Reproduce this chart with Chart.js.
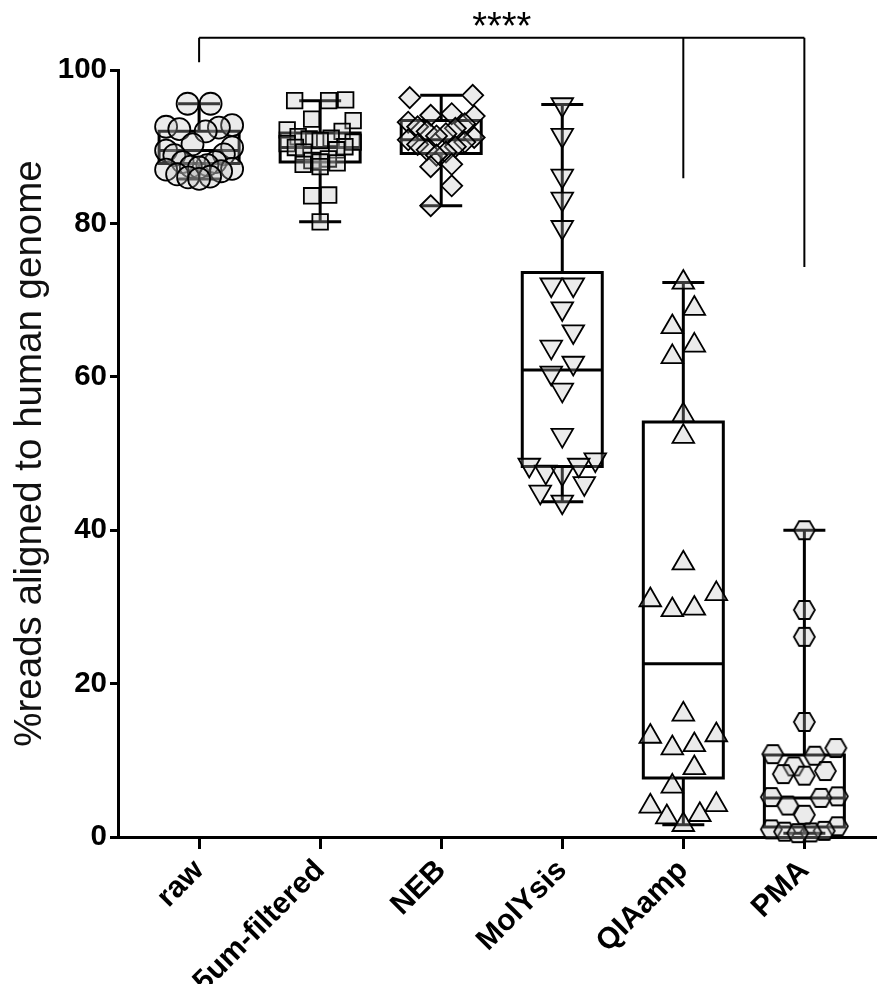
<!DOCTYPE html>
<html>
<head>
<meta charset="utf-8">
<title>Reads aligned to human genome</title>
<script src="https://cdn.jsdelivr.net/npm/chart.js@4.4.1/dist/chart.umd.min.js"></script>
<style>
  html, body { margin: 0; padding: 0; background: #fff; }
  #wrap { width: 877px; height: 984px; }
</style>
</head>
<body>
<div id="wrap"><canvas id="chart" width="877" height="984"></canvas></div>
<script>
// groups and axis ticks
const groups = ['raw', '5um-filtered', 'NEB', 'MolYsis', 'QIAamp', 'PMA'];
const yTicks = [0, 20, 40, 60, 80, 100];

// % reads aligned to human genome, one array per method
const rawReads = [95.6, 95.6, 92.8, 92.6, 92.5, 92.3, 92.0, 90.3, 89.9, 89.5, 89.0, 88.9,
  88.0, 88.0, 87.6, 87.4, 87.3, 87.1, 87.0, 86.8, 86.4, 86.1, 86.0, 85.8];
const filteredReads = [96.1, 96.0, 96.0, 93.6, 93.4, 92.2, 92.0, 91.3, 91.1, 91.0, 90.8, 90.6,
  90.4, 90.0, 89.9, 89.6, 89.3, 88.4, 88.2, 88.0, 87.9, 87.7, 87.4, 83.7, 83.6, 80.2];
const nebReads = [96.7, 96.4, 94.3, 94.1, 94.0, 93.2, 93.0, 92.6, 92.4, 92.0, 91.7, 91.4,
  91.2, 90.9, 90.6, 90.3, 90.0, 89.6, 89.3, 88.9, 87.7, 87.4, 84.9, 82.3];
const molysisReads = [95.5, 91.5, 86.2, 83.2, 79.5, 72.0, 72.0, 68.9, 65.9, 63.9, 61.8, 60.5,
  58.3, 52.4, 49.2, 48.5, 48.5, 47.6, 47.4, 46.1, 45.0, 43.7];
const qiaampReads = [72.3, 68.9, 66.5, 64.1, 62.6, 55.0, 52.2, 35.7, 31.7, 30.9, 29.8, 29.6,
  16.0, 13.3, 13.1, 12.0, 11.6, 9.0, 6.6, 4.2, 4.0, 2.9, 2.6, 1.6];
const pmaReads = [40.0, 29.6, 26.1, 15.0, 11.6, 10.8, 10.6, 9.2, 8.6, 8.2, 8.0, 5.3, 5.2,
  5.1, 4.1, 2.9, 1.4, 1.0, 0.8, 0.7, 0.6, 0.5];

// box summaries (min to max whiskers)
const boxMin = [85.8, 80.2, 82.3, 43.7, 1.6, 0.5];
const boxQ1 = [87.8, 88.0, 89.1, 48.3, 7.7, 1.3];
const boxMedian = [89.5, 89.9, 90.9, 60.9, 22.6, 5.1];
const boxQ3 = [92.0, 91.8, 93.4, 73.6, 54.1, 10.7];
const boxMax = [95.6, 96.0, 96.7, 95.5, 72.3, 40.0];

// significance bracket
const bracketGroups = [0, 4, 5];
const bracketLegEnds = [101.0, 85.9, 74.3];
const bracketTop = 104.2;
const bracketLabel = '****';

const series = [rawReads, filteredReads, nebReads, molysisReads, qiaampReads, pmaReads];

Chart.defaults.font.family = '"Liberation Sans", Arial, Helvetica, sans-serif';
Chart.defaults.color = '#000';

const FILL = 'rgba(190,190,190,0.3)';

// hexagon marker (not built into Chart.js)
function hexagon(w, h) {
  const c = document.createElement('canvas');
  c.width = w + 4; c.height = h + 4;
  const g = c.getContext('2d');
  const cx = c.width / 2, cy = c.height / 2;
  g.beginPath();
  g.moveTo(cx - w / 2, cy);
  g.lineTo(cx - w / 4, cy - h / 2);
  g.lineTo(cx + w / 4, cy - h / 2);
  g.lineTo(cx + w / 2, cy);
  g.lineTo(cx + w / 4, cy + h / 2);
  g.lineTo(cx - w / 4, cy + h / 2);
  g.closePath();
  g.fillStyle = FILL;
  g.fill();
  g.lineWidth = 1.8;
  g.strokeStyle = '#000';
  g.stroke();
  return c;
}

// marker look per group; gap = sideways spacing of neighbours in a row
const markers = [
  { pointStyle: 'circle', radius: 11, rotation: 0, gap: 23 },
  { pointStyle: 'rect', radius: 11, rotation: 0, gap: 17 },
  { pointStyle: 'rectRot', radius: 10.5, rotation: 0, gap: 21 },
  { pointStyle: 'triangle', radius: 12.5, rotation: 180, gap: 22 },
  { pointStyle: 'triangle', radius: 12.5, rotation: 0, gap: 22 },
  { pointStyle: hexagon(21, 18), radius: 11, rotation: 0, gap: 21 }
];

const boxWhisker = {
  id: 'boxWhisker',
  beforeDatasetsDraw(chart) {
    const { ctx, scales: { x, y } } = chart;
    const half = 40, cap = 21;
    ctx.save();
    ctx.strokeStyle = '#000';
    ctx.lineWidth = 3;
    groups.forEach((g, i) => {
      const cx = x.getPixelForValue(i);
      const pMin = y.getPixelForValue(boxMin[i]);
      const pQ1 = y.getPixelForValue(boxQ1[i]);
      const pMed = y.getPixelForValue(boxMedian[i]);
      const pQ3 = y.getPixelForValue(boxQ3[i]);
      const pMax = y.getPixelForValue(boxMax[i]);
      ctx.beginPath();
      ctx.moveTo(cx, pMax); ctx.lineTo(cx, pQ3);
      ctx.moveTo(cx, pQ1); ctx.lineTo(cx, pMin);
      ctx.moveTo(cx - cap, pMax); ctx.lineTo(cx + cap, pMax);
      ctx.moveTo(cx - cap, pMin); ctx.lineTo(cx + cap, pMin);
      ctx.moveTo(cx - half, pMed); ctx.lineTo(cx + half, pMed);
      ctx.rect(cx - half, pQ3, half * 2, pQ1 - pQ3);
      ctx.stroke();
    });
    ctx.restore();
  }
};

const bracket = {
  id: 'bracket',
  afterDraw(chart) {
    const { ctx, scales: { x, y } } = chart;
    const top = y.getPixelForValue(bracketTop);
    const xs = bracketGroups.map(i => x.getPixelForValue(i));
    ctx.save();
    ctx.strokeStyle = '#000';
    ctx.lineWidth = 2;
    ctx.beginPath();
    ctx.moveTo(xs[0], top);
    ctx.lineTo(xs[xs.length - 1], top);
    xs.forEach((px, k) => {
      ctx.moveTo(px, top);
      ctx.lineTo(px, y.getPixelForValue(bracketLegEnds[k]));
    });
    ctx.stroke();
    ctx.fillStyle = '#000';
    ctx.font = '38px "Liberation Sans", Arial, sans-serif';
    ctx.textAlign = 'center';
    ctx.textBaseline = 'alphabetic';
    ctx.fillText(bracketLabel, (xs[0] + xs[xs.length - 1]) / 2, top + 1);
    ctx.restore();
  }
};

const chart = new Chart(document.getElementById('chart'), {
  type: 'scatter',
  data: {
    datasets: series.map((vals, gi) => ({
      label: groups[gi],
      data: vals.map(v => ({ x: gi, y: v })),
      pointStyle: markers[gi].pointStyle,
      pointRadius: markers[gi].radius,
      pointRotation: markers[gi].rotation,
      backgroundColor: FILL,
      borderColor: '#000',
      borderWidth: 1.8,
      clip: false
    }))
  },
  options: {
    responsive: false,
    devicePixelRatio: 1,
    animation: false,
    layout: { autoPadding: false, padding: { top: 70, right: 0, bottom: 0, left: 0 } },
    plugins: { legend: { display: false }, tooltip: { enabled: false } },
    scales: {
      x: {
        type: 'linear',
        min: -0.67,
        max: 5.6,
        afterBuildTicks: s => { s.ticks = groups.map((_, i) => ({ value: i })); },
        afterFit: s => { s.height = 147; s.paddingLeft = 0; s.paddingRight = 0; },
        ticks: {
          autoSkip: false,
          minRotation: 45,
          maxRotation: 45,
          padding: 4,
          font: { size: 30, weight: 'bold' },
          callback: (v, i) => groups[i]
        },
        grid: { drawOnChartArea: false, drawTicks: true, tickLength: 12, color: '#000', lineWidth: 3 },
        border: { color: '#000', width: 3 }
      },
      y: {
        min: 0,
        max: 100,
        afterBuildTicks: s => { s.ticks = yTicks.map(v => ({ value: v })); },
        afterFit: s => { s.width = 118; },
        ticks: {
          padding: 3,
          font: { size: 29.5, weight: 'bold' }
        },
        grid: { drawOnChartArea: false, drawTicks: true, tickLength: 8, color: '#000', lineWidth: 3 },
        border: { color: '#000', width: 3 },
        title: {
          display: true,
          text: '%reads aligned to human genome',
          font: { size: 38.5, weight: 'normal' },
          color: '#111',
          padding: { top: 7, bottom: 0 }
        }
      }
    }
  },
  plugins: [boxWhisker, bracket]
});

// scatter-dot layout: points within one marker height share a row and
// are fanned out sideways, highest values on the outside
function spreadPoints() {
  const xs = chart.scales.x, ys = chart.scales.y;
  const unit = xs.getPixelForValue(1) - xs.getPixelForValue(0);
  const rowH = 20.5, maxHalf = 33;
  chart.data.datasets.forEach((ds, gi) => {
    const vals = series[gi];
    const gap = markers[gi].gap;
    const order = vals.map((_, i) => i).sort((a, b) => vals[b] - vals[a]);
    const offsets = new Array(vals.length).fill(0);
    let k = 0;
    while (k < order.length) {
      const start = ys.getPixelForValue(vals[order[k]]);
      const row = [];
      while (k < order.length && ys.getPixelForValue(vals[order[k]]) - start < rowH) row.push(order[k++]);
      const n = row.length;
      const step = n > 1 ? Math.min(gap, 2 * maxHalf / (n - 1)) : 0;
      const slots = Array.from({ length: n }, (_, j) => (j - (n - 1) / 2) * step);
      slots.sort((a, b) => Math.abs(b) - Math.abs(a) || b - a);
      row.forEach((idx, j) => { offsets[idx] = slots[j]; });
    }
    ds.data = vals.map((v, i) => ({ x: gi + offsets[i] / unit, y: v }));
  });
  chart.update('none');
}
spreadPoints();
</script>
</body>
</html>
